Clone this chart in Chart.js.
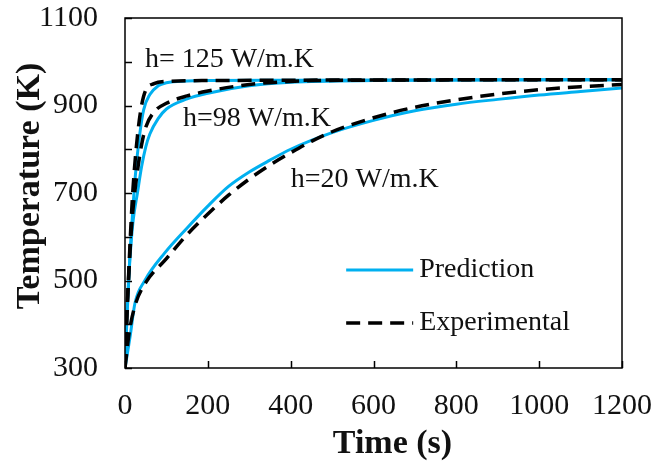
<!DOCTYPE html>
<html>
<head>
<meta charset="utf-8">
<script src="https://cdn.jsdelivr.net/npm/chart.js@4"></script>
<style>
  html, body { margin: 0; padding: 0; background: #fff; }
  #wrap { width: 656px; height: 463px; }
</style>
</head>
<body>
<div id="wrap"><canvas id="tempChart"></canvas></div>
<script>
// h = 125 W/m.K
const timeH125 = [0, 3, 7, 12, 18, 25, 35, 45, 60, 80, 100, 150, 200, 400, 1200];
const predH125 = [300, 400, 470, 560, 650, 740, 830, 890, 925, 945, 952, 956, 957, 958, 959];
const timeExpH125 = [0, 5, 10, 15, 20, 30, 40, 50, 70, 100, 200, 1200];
const expH125 = [300, 430, 540, 640, 720, 830, 900, 935, 950, 955, 957, 959];

// h = 98 W/m.K
const timeH98 = [0, 5, 10, 15, 20, 30, 40, 50, 60, 80, 100, 150, 200, 300, 400, 600, 1200];
const predH98 = [300, 420, 520, 590, 640, 700, 760, 805, 835, 870, 892, 915, 928, 945, 953, 957, 959];
const timeExpH98 = [0, 5, 10, 15, 20, 30, 40, 50, 70, 100, 150, 200, 300, 400, 600, 1200];
const expH98 = [300, 430, 530, 610, 670, 750, 810, 850, 885, 905, 922, 933, 948, 955, 958, 959];

// h = 20 W/m.K
const timeH20 = [0, 12, 24, 48, 96, 150, 200, 250, 300, 350, 400, 500, 600, 700, 800, 900, 1000, 1100, 1200];
const predH20 = [300, 370, 448, 500, 563, 620, 670, 715, 748, 775, 800, 838, 866, 888, 903, 914, 924, 932, 940];
const timeExpH20 = [0, 10, 25, 50, 100, 150, 200, 250, 300, 350, 400, 450, 500, 600, 700, 800, 900, 1000, 1100, 1200];
const expH20 = [300, 380, 445, 495, 550, 605, 652, 695, 732, 764, 792, 818, 840, 872, 896, 913, 926, 936, 943, 948];

const curveLabels = ['h= 125 W/m.K', 'h=98 W/m.K', 'h=20 W/m.K'];
const labelPos = [[48, 1004], [140, 871], [400, 731]];
const legendNames = ['Prediction', 'Experimental'];
const xTitle = 'Time (s)';
const yTitle = 'Temperature (K)';

const blue = 'rgb(0, 176, 240)';
const serif = "'Liberation Serif', 'Times New Roman', serif";

function pts(xs, ys) {
    return xs.map((x, i) => ({ x: x, y: ys[i] }));
}

function expSet(xs, ys) {
    return {
        label: 'Experimental',
        data: pts(xs, ys),
        borderColor: '#000',
        borderWidth: 3.5,
        borderDash: [14, 8],
        pointRadius: 0,
        cubicInterpolationMode: 'monotone',
    };
}

function predSet(xs, ys) {
    return {
        label: 'Prediction',
        data: pts(xs, ys),
        borderColor: blue,
        borderWidth: 3,
        pointRadius: 0,
        cubicInterpolationMode: 'monotone',
    };
}

// frame, inside tick marks, axis titles, curve labels and legend
const decor = {
    id: 'decor',
    afterDatasetsDraw(chart) {
        const ctx = chart.ctx;
        const a = chart.chartArea;
        const xs = chart.scales.x;
        const ys = chart.scales.y;
        ctx.save();
        ctx.strokeStyle = '#000';
        ctx.lineWidth = 1.5;
        ctx.strokeRect(a.left, a.top, a.right - a.left, a.bottom - a.top);

        ctx.beginPath();
        ys.ticks.forEach(t => {
            const py = Math.round(ys.getPixelForValue(t.value)) + 0.5;
            ctx.moveTo(a.left, py);
            ctx.lineTo(a.left + 7, py);
        });
        xs.ticks.forEach(t => {
            const px = Math.round(xs.getPixelForValue(t.value)) + 0.5;
            ctx.moveTo(px, a.bottom);
            ctx.lineTo(px, a.bottom - 7);
        });
        ctx.stroke();

        ctx.fillStyle = '#111';
        ctx.textAlign = 'center';
        ctx.textBaseline = 'middle';
        ctx.font = 'bold 34px ' + serif;
        ctx.fillText(xTitle, (a.left + a.right) / 2 + 19, a.bottom + 76);
        ctx.save();
        ctx.translate(30, (a.top + a.bottom) / 2 - 7);
        ctx.rotate(-Math.PI / 2);
        ctx.fillText(yTitle, 0, 0);
        ctx.restore();

        ctx.font = '28px ' + serif;
        ctx.textAlign = 'left';
        curveLabels.forEach((txt, i) => {
            ctx.fillText(txt, xs.getPixelForValue(labelPos[i][0]), ys.getPixelForValue(labelPos[i][1]));
        });

        // legend
        const lx = a.left + (a.right - a.left) * 0.445;
        const ly = a.top + (a.bottom - a.top) * 0.72;
        const styles = [chart.data.datasets[3], chart.data.datasets[0]];
        legendNames.forEach((name, i) => {
            const y = ly + i * 53;
            const ds = styles[i];
            ctx.beginPath();
            ctx.strokeStyle = ds.borderColor;
            ctx.lineWidth = ds.borderWidth;
            ctx.setLineDash(ds.borderDash || []);
            ctx.moveTo(lx, y);
            ctx.lineTo(lx + 67, y);
            ctx.stroke();
            ctx.setLineDash([]);
            ctx.fillText(name, lx + 73, y);
        });
        ctx.restore();
    },
};

new Chart(document.getElementById('tempChart'), {
    type: 'line',
    data: {
        datasets: [
            expSet(timeExpH125, expH125),
            expSet(timeExpH98, expH98),
            expSet(timeExpH20, expH20),
            predSet(timeH125, predH125),
            predSet(timeH98, predH98),
            predSet(timeH20, predH20),
        ],
    },
    options: {
        responsive: true,
        maintainAspectRatio: false,
        animation: false,
        layout: {
            padding: { top: 18, right: 34, left: 0, bottom: 0 },
        },
        plugins: {
            legend: { display: false },
            tooltip: { enabled: false },
        },
        scales: {
            x: {
                type: 'linear',
                min: 0,
                max: 1200,
                grid: { display: false, drawTicks: false },
                border: { display: false },
                ticks: {
                    stepSize: 200,
                    padding: 20,
                    color: '#111',
                    font: { family: serif, size: 30 },
                    maxRotation: 0,
                    callback: function (value) {
                        return String(value);
                    },
                },
                afterFit(scale) {
                    scale.height = 95;
                    scale.paddingLeft = 0;
                    scale.paddingRight = 0;
                },
            },
            y: {
                min: 300,
                max: 1100,
                grid: { display: false, drawTicks: false },
                border: { display: false },
                ticks: {
                    stepSize: 100,
                    padding: 27,
                    color: '#111',
                    font: { family: serif, size: 30 },
                    callback: function (value) {
                        return (value - 300) % 200 === 0 ? String(value) : '';
                    },
                },
                afterFit(scale) {
                    scale.width = 125;
                    scale.paddingTop = 0;
                    scale.paddingBottom = 0;
                },
            },
        },
    },
    plugins: [decor],
});
</script>
</body>
</html>
